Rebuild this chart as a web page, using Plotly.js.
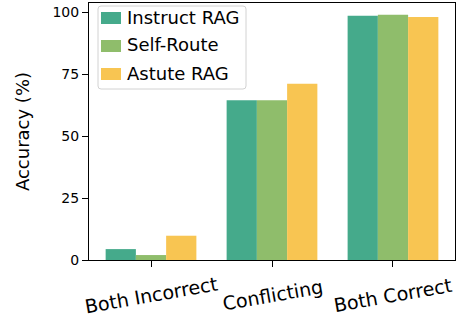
<!DOCTYPE html>
<html>
<head>
<meta charset="utf-8">
<script src="https://cdn.plot.ly/plotly-3.0.1.min.js"></script>
<style>
  html, body { margin: 0; padding: 0; background: #fff; }
  #chart { width: 462px; height: 320px; }
</style>
</head>
<body>
<div id="chart"></div>
<script>
// Accuracy per knowledge-conflict scenario
const categories = ['Both Incorrect', 'Conflicting', 'Both Correct'];
const seriesNames = ['Instruct RAG', 'Self-Route', 'Astute RAG'];
const instructRag = [4.4, 64.5, 98.6];
const selfRoute = [2.0, 64.5, 99.0];
const astuteRag = [9.8, 71.2, 98.1];
const yTicks = [0, 25, 50, 75, 100];

const colors = ['#45AA8B', '#8FBD6B', '#F8C552'];
const seriesValues = [instructRag, selfRoute, astuteRag];
const FONT = 'DejaVu Sans';

const W = 462, H = 320;
const M = { l: 89, r: 7, t: 3, b: 60 };
const plotW = W - M.l - M.r, plotH = H - M.t - M.b;
// pixel -> paper coordinate helpers for the boxed key
const px = v => (v - M.l) / plotW;
const py = v => (H - M.b - v) / plotH;

const traces = seriesValues.map((vals, i) => ({
  type: 'bar',
  name: seriesNames[i],
  x: categories,
  y: vals,
  marker: { color: colors[i], line: { width: 0 } },
  showlegend: false,
  hoverinfo: 'skip'
}));

// Category labels drawn tilted and centred under each tick
const annotations = categories.map(c => ({
  x: c, xref: 'x',
  y: -0.135, yref: 'paper',
  text: c,
  showarrow: false,
  textangle: -10,
  xanchor: 'center', yanchor: 'middle',
  font: { family: FONT, size: 19, color: '#000' }
}));

// Key: rounded frame, colour swatches and series names
const box = { x0: 98, x1: 246, y0: 6, y1: 89, r: 3 };
const framePath = [
  `M${px(box.x0 + box.r)},${py(box.y0)}`,
  `L${px(box.x1 - box.r)},${py(box.y0)}`,
  `Q${px(box.x1)},${py(box.y0)} ${px(box.x1)},${py(box.y0 + box.r)}`,
  `L${px(box.x1)},${py(box.y1 - box.r)}`,
  `Q${px(box.x1)},${py(box.y1)} ${px(box.x1 - box.r)},${py(box.y1)}`,
  `L${px(box.x0 + box.r)},${py(box.y1)}`,
  `Q${px(box.x0)},${py(box.y1)} ${px(box.x0)},${py(box.y1 - box.r)}`,
  `L${px(box.x0)},${py(box.y0 + box.r)}`,
  `Q${px(box.x0)},${py(box.y0)} ${px(box.x0 + box.r)},${py(box.y0)}`,
  'Z'
].join(' ');

const shapes = [{
  type: 'path', xref: 'paper', yref: 'paper', path: framePath,
  fillcolor: 'rgba(255,255,255,0.8)',
  line: { color: '#d2d2d2', width: 1 },
  layer: 'above'
}];

const rowY = [18, 46, 74];
seriesNames.forEach((name, i) => {
  shapes.push({
    type: 'rect', xref: 'paper', yref: 'paper',
    x0: px(101), x1: px(121),
    y0: py(rowY[i] - 6), y1: py(rowY[i] + 6),
    fillcolor: colors[i], line: { width: 0 }, layer: 'above'
  });
  annotations.push({
    xref: 'paper', yref: 'paper',
    x: px(125), y: py(rowY[i] - 1),
    xanchor: 'left', yanchor: 'middle',
    text: name, showarrow: false,
    font: { family: FONT, size: 18, color: '#000' }
  });
});

const layout = {
  width: W,
  height: H,
  margin: M,
  paper_bgcolor: '#fff',
  plot_bgcolor: '#fff',
  font: { family: FONT, color: '#000' },
  barmode: 'group',
  bargap: 0.25,
  bargroupgap: 0,
  showlegend: false,
  xaxis: {
    type: 'category',
    range: [-0.5125, 2.5125],
    showticklabels: false,
    ticks: 'outside',
    ticklen: 6,
    tickwidth: 1,
    tickcolor: '#000',
    showline: true,
    linecolor: '#000',
    linewidth: 1,
    mirror: true,
    showgrid: false,
    zeroline: false,
    fixedrange: true
  },
  yaxis: {
    range: [0, 103.75],
    tickvals: yTicks,
    ticktext: yTicks.map(String),
    ticks: 'outside',
    ticklen: 6,
    tickwidth: 1,
    tickcolor: '#000',
    tickfont: { family: FONT, size: 14, color: '#000' },
    showline: true,
    linecolor: '#000',
    linewidth: 1,
    mirror: true,
    showgrid: false,
    zeroline: false,
    fixedrange: true,
    title: { text: 'Accuracy (%)', standoff: 18, font: { family: FONT, size: 18, color: '#000' } }
  },
  shapes: shapes,
  annotations: annotations
};

Plotly.newPlot('chart', traces, layout, { staticPlot: true, displayModeBar: false });
</script>
</body>
</html>
